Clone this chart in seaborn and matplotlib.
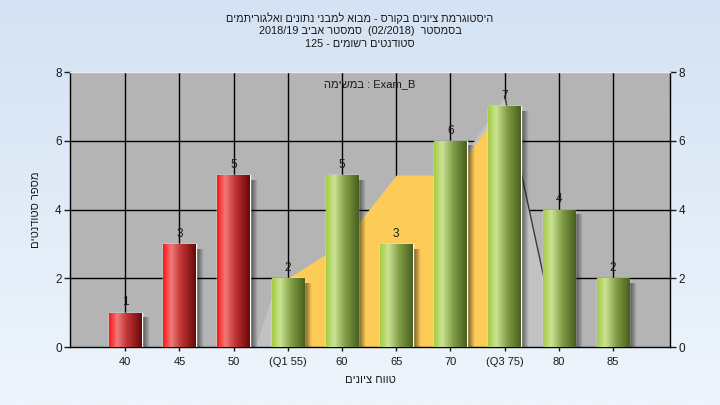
import re
import numpy as np
import pandas as pd
import matplotlib
matplotlib.use('Agg')
import matplotlib.pyplot as plt
import seaborn as sns
from matplotlib.colors import LinearSegmentedColormap

# chart data
categories = ['40', '45', '50', '(Q1 55)', '60', '65', '70', '(Q3 75)', '80', '85']
counts = [1, 3, 5, 2, 5, 3, 6, 7, 4, 2]
groups = ['low', 'low', 'low', 'ok', 'ok', 'ok', 'ok', 'ok', 'ok', 'ok']

# background areas (category index, value)
gray_x = [2.4, 2.75, 3.1, 4, 5, 6, 7, 8]
gray_y = [0, 1.7, 1.9, 3, 5, 5, 7.3, 0]
yellow_x = [3, 4, 5, 6, 7]
yellow_y = [2, 3, 5, 5, 7]

title_lines = ['היסטוגרמת ציונים בקורס - מבוא למבני נתונים ואלגוריתמים',
               'בסמסטר  (02/2018)  סמסטר אביב 2018/19',
               'סטודנטים רשומים - 125']
x_label = 'טווח ציונים'
y_label = 'מספר סטודנטים'
task_word = 'במשימה'
task_name = 'Exam_B'

LTR = re.compile(r'[A-Za-z0-9](?:[A-Za-z0-9_/.]*[A-Za-z0-9])?')
MIRROR = {'(': ')', ')': '(', '[': ']', ']': '['}


def rtl(s):
    # crude visual reordering for right-to-left text
    parts, pos = [], 0
    for m in LTR.finditer(s):
        if m.start() > pos:
            parts.append(('r', s[pos:m.start()]))
        parts.append(('l', m.group()))
        pos = m.end()
    if pos < len(s):
        parts.append(('r', s[pos:]))
    out = []
    for kind, t in reversed(parts):
        out.append(t if kind == 'l' else ''.join(MIRROR.get(c, c) for c in reversed(t)))
    return ''.join(out)


sns.set_style('white')
plt.rcParams['font.family'] = ['Liberation Sans', 'DejaVu Sans']

df = pd.DataFrame({'grade': categories, 'count': counts, 'group': groups})

fig = plt.figure(figsize=(7.2, 4.05), dpi=100)

# figure background gradient
bg = fig.add_axes([0, 0, 1, 1])
grad = np.linspace(0, 1, 256)[:, None]
bg_cmap = LinearSegmentedColormap.from_list('bg', ['#d4e2f3', '#eef5fc'])
bg.imshow(grad, cmap=bg_cmap, aspect='auto', extent=[0, 1, 0, 1], origin='upper')
bg.axis('off')

ax = fig.add_axes([0.0972, 0.1432, 0.8333, 0.679])
ax.set_facecolor('#b4b4b4')

sns.barplot(data=df, x='grade', y='count', hue='group',
            palette={'low': '#e02020', 'ok': '#90b848'},
            width=0.6, dodge=False, legend=False, ax=ax, zorder=3)

ax.fill_between(gray_x, gray_y, color='#c2c2c2', lw=0, zorder=1)
ax.fill_between(yellow_x, yellow_y, color='#fdcb58', lw=0, zorder=1.2)
ax.plot(gray_x[-2:], gray_y[-2:], color='#3a3a3a', lw=1, zorder=1.3)

red_cmap = LinearSegmentedColormap.from_list(
    'red', [(0, '#ff1414'), (0.25, '#f07a7a'), (0.55, '#c03434'), (1, '#680808')])
green_cmap = LinearSegmentedColormap.from_list(
    'green', [(0, '#a2cc44'), (0.25, '#cce394'), (0.6, '#7e9c44'), (1, '#485e1e')])

hgrad = np.linspace(0, 1, 256)[None, :]
shadow = np.zeros((1, 64, 4))
shadow[0, :, 3] = np.linspace(0.6, 0, 64)

for patch, v, g in zip(ax.patches, counts, groups):
    x0, w, h = patch.get_x(), patch.get_width(), patch.get_height()
    cmap = red_cmap if g == 'low' else green_cmap
    im = ax.imshow(hgrad, cmap=cmap, aspect='auto', extent=[x0, x0 + w, 0, h], zorder=3.5)
    im.set_clip_path(patch)
    ax.imshow(shadow, aspect='auto', extent=[x0 + w, x0 + w + 0.13, 0, h - 0.15], zorder=2.5)
    ax.annotate(str(v), (x0 + w / 2, h), xytext=(0, 3), textcoords='offset points',
                ha='center', va='bottom', fontsize=8.5, color='#1a1a1a', zorder=5)

ax.set_xlim(-1.02, 10.05)
ax.set_ylim(0, 8)

# grid
ax.set_yticks([0, 2, 4, 6, 8])
for yv in [2, 4, 6]:
    ax.axhline(yv, color='black', lw=1, zorder=0.5)
for xv in range(len(categories)):
    ax.axvline(xv, color='black', lw=1, zorder=0.5)

ax.tick_params(axis='y', which='both', left=True, right=True, labelleft=True, labelright=True,
               direction='out', length=4.5, width=1, pad=1.5, labelsize=8.5, colors='#1a1a1a')
ax.tick_params(axis='x', bottom=True, direction='out', length=3, width=1, pad=4,
               labelsize=8, colors='#1a1a1a')

for side in ['left', 'right', 'bottom']:
    ax.spines[side].set_color('black')
    ax.spines[side].set_linewidth(1)
ax.spines['top'].set_color('#e8eef6')
ax.spines['top'].set_linewidth(1)

ax.set_xlabel(rtl(x_label), fontsize=8, color='#1a1a1a', labelpad=6)
ax.set_ylabel(rtl(y_label), fontsize=8, color='#1a1a1a', labelpad=10)

ax.text(0.5, 0.955, rtl(task_word) + ' : ' + task_name, transform=ax.transAxes,
        ha='center', va='center', fontsize=8, color='#1a1a1a', zorder=6)

for i, line in enumerate(title_lines):
    fig.text(0.5, 1 - (18 + 13 * i) / 405, rtl(line), ha='center', va='center',
             fontsize=7.8, color='#1a1a1a')

fig.savefig('out.png', dpi=100)
plt.close(fig)
